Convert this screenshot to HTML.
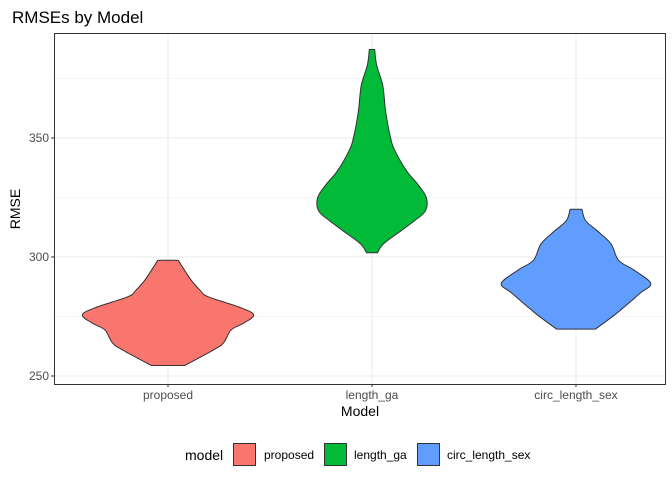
<!DOCTYPE html>
<html><head><meta charset="utf-8"><style>
body{margin:0;background:#fff;}
svg text{font-family:"Liberation Sans",sans-serif;}
</style></head><body>
<svg id="chart" width="672" height="480" xmlns="http://www.w3.org/2000/svg">
<rect width="672" height="480" fill="#fff"/>
<text x="12" y="23" font-size="17" fill="#000">RMSEs by Model</text>
<g id="grid"></g>
<g id="violins"></g>
<rect x="54.5" y="33.5" width="611" height="351" fill="none" stroke="#333" stroke-width="1"/>
<g id="axes"></g>
<text x="360" y="416" font-size="14" text-anchor="middle">Model</text>
<text transform="translate(20,209) rotate(-90)" font-size="14" text-anchor="middle">RMSE</text>
<g>
<text x="185" y="460" font-size="14">model</text>
<rect x="233.5" y="443.5" width="22" height="22" fill="#F8766D" stroke="#333"/>
<text x="264" y="459" font-size="12">proposed</text>
<rect x="324.5" y="443.5" width="22" height="22" fill="#00BA38" stroke="#333"/>
<text x="354" y="459" font-size="12">length_ga</text>
<rect x="417.5" y="443.5" width="22" height="22" fill="#619CFF" stroke="#333"/>
<text x="447" y="459" font-size="12">circ_length_sex</text>
</g>
</svg>
<script>
const categories = ["proposed","length_ga","circ_length_sex"];
const colors = ["#F8766D","#00BA38","#619CFF"];
const yTicks = [250,300,350];
const yMinor = [275,325,375];
// density profiles: value (RMSE) and half-width (fraction of category spacing)
const propVals = [254.4,261,263.9,269.4,272,275.7,279,283.3,286,290.6,298.6];
const propHW   = [0.082,0.224,0.272,0.31,0.367,0.42,0.348,0.196,0.158,0.111,0.05];
const lgaVals = [301.8,305.6,311,315.3,319.4,325,330.6,336,344.4,350,361,372,380.5,387.2];
const lgaHW   = [0.027,0.057,0.142,0.209,0.262,0.266,0.224,0.171,0.114,0.091,0.067,0.053,0.023,0.013];
const circVals = [269.7,276.4,284.7,288.9,294.4,298.6,305.6,311,315.3,320.1];
const circHW   = [0.095,0.2,0.313,0.366,0.286,0.209,0.171,0.104,0.047,0.029];
const profVals = [propVals,lgaVals,circVals];
const profHW = [propHW,lgaHW,circHW];

const NS="http://www.w3.org/2000/svg";
const xS = i => 168 + i*204;
const xW = w => w*204;
const yS = v => 376 - (v-250)*119/50;
const grid=document.getElementById('grid'), vg=document.getElementById('violins'), ax=document.getElementById('axes');
function mk(t,a,p){const e=document.createElementNS(NS,t);for(const k in a)e.setAttribute(k,a[k]);p.appendChild(e);return e;}
function smooth(pts){let d='M'+pts[0][0].toFixed(1)+','+pts[0][1].toFixed(1);
for(let i=0;i<pts.length-1;i++){const p0=pts[Math.max(0,i-1)],p1=pts[i],p2=pts[i+1],p3=pts[Math.min(pts.length-1,i+2)];
const c1=[p1[0]+(p2[0]-p0[0])/6,p1[1]+(p2[1]-p0[1])/6],c2=[p2[0]-(p3[0]-p1[0])/6,p2[1]-(p3[1]-p1[1])/6];
d+='C'+c1[0].toFixed(1)+','+c1[1].toFixed(1)+' '+c2[0].toFixed(1)+','+c2[1].toFixed(1)+' '+p2[0].toFixed(1)+','+p2[1].toFixed(1);}
return d;}
yMinor.forEach(v=>{const l=mk('line',{x1:54,x2:665,y1:yS(v),y2:yS(v),stroke:'#ebebeb','stroke-width':0.6},grid);

});
yTicks.forEach(v=>{const l=mk('line',{x1:54,x2:665,y1:yS(v),y2:yS(v),stroke:'#ebebeb','stroke-width':1.1},grid);


const t=mk('line',{x1:51,x2:54,y1:yS(v),y2:yS(v),stroke:'#333'},ax);


const tx=mk('text',{x:49,y:yS(v)+4,'font-size':12,fill:'#4d4d4d','text-anchor':'end'},ax);tx.textContent=v;

});
categories.forEach((c,i)=>{const l=mk('line',{x1:xS(i),x2:xS(i),y1:33,y2:384,stroke:'#ebebeb','stroke-width':1.1},grid);


const t=mk('line',{x1:xS(i),x2:xS(i),y1:384,y2:387,stroke:'#333'},ax);


const tx=mk('text',{x:xS(i),y:399,'font-size':12,fill:'#4d4d4d','text-anchor':'middle'},ax);tx.textContent=c;


const vals=profVals[i],hw=profHW[i];const cx=xS(i);
const right=vals.map((v,k)=>[cx+xW(hw[k]),yS(v)]);
const left=vals.map((v,k)=>[cx-xW(hw[k]),yS(v)]).reverse();
const d=smooth(right)+'L'+smooth(left).slice(1)+'Z';
const p=mk('path',{d:d,fill:colors[i],stroke:'#333','stroke-width':1,'stroke-linejoin':'round'},vg);

});
</script>
</body></html>
